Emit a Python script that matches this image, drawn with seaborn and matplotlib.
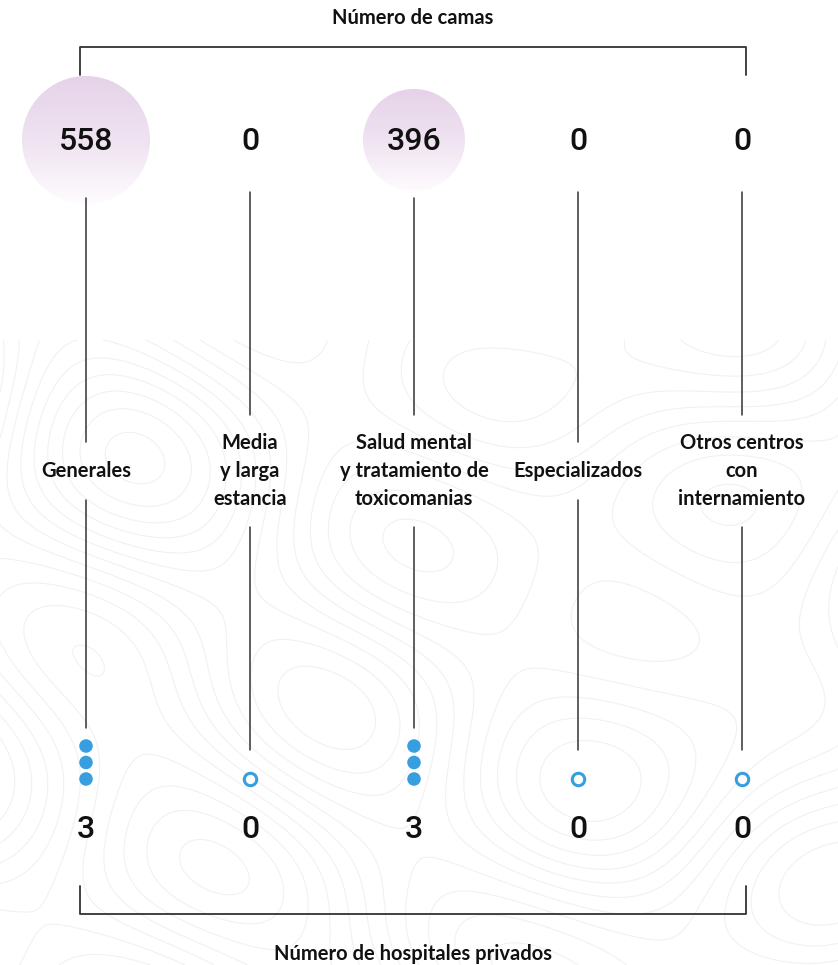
import numpy as np
import pandas as pd
import seaborn as sns
import matplotlib.pyplot as plt
from matplotlib.patches import Circle
from matplotlib.colors import LinearSegmentedColormap

# datos
categorias = ["Generales", "Media\ny larga\nestancia", "Salud mental\ny tratamiento de\ntoxicomanias",
              "Especializados", "Otros centros\ncon\ninternamiento"]
camas = [558, 0, 396, 0, 0]
hospitales = [3, 0, 3, 0, 0]

sns.set_style("white")
plt.rcParams['font.family'] = ['Lato', 'DejaVu Sans']

AZUL = '#379fe0'
LINEA = '#333333'

fig = plt.figure(figsize=(8.38, 9.65), dpi=100)
ax = fig.add_axes([0, 0, 1, 1])

xs = 86 + 164 * np.arange(len(categorias))

# fondo topografico tenue
gx, gy = np.meshgrid(np.linspace(0, 838, 300), np.linspace(340, 965, 260))
campo = (np.sin(gx / 95.0 + 0.6) * np.cos(gy / 120.0) + 0.7 * np.sin((gx + gy) / 150.0)
         + 0.5 * np.cos(gx / 60.0 - gy / 85.0) + 0.4 * np.sin(gy / 45.0 + gx / 210.0))
ax.contour(gx, gy, campo, levels=16, colors='#f1f1f1', linewidths=0.8,
           linestyles='solid', zorder=0)

# circulos de camas con degradado
cmap = LinearSegmentedColormap.from_list('rosa', ['#e6d2e9', '#efe2f1', '#fefcfe'])
grad = np.linspace(0, 1, 200).reshape(-1, 1)
vmax = max(camas)
for x, v in zip(xs, camas):
    if v > 0:
        r = 64 * (v / vmax) ** 0.66
        im = ax.imshow(grad, cmap=cmap, extent=[x - r, x + r, 140 + r, 140 - r],
                       aspect='auto', zorder=1, interpolation='bilinear')
        circ = Circle((x, 140), r, transform=ax.transData)
        im.set_clip_path(circ)
    ax.text(x, 141, f"{v}", ha='center', va='center', fontsize=23,
            family=['Roboto', 'DejaVu Sans'], fontweight='medium', color='#111111', zorder=3)

# lineas verticales y etiquetas
for x, v, lab, h in zip(xs, camas, categorias, hospitales):
    n = lab.count('\n') + 1
    top_c = 470 - 13.5 * (n - 1)
    bot_c = 470 + 13.5 * (n - 1)
    y0 = 198 if v > 0 else 192
    ax.plot([x, x], [y0, top_c - 28], color=LINEA, lw=1.1, zorder=2)
    fin = 779 - 16.5 * (h - 1) - 18 if h > 0 else 750
    ax.plot([x, x], [bot_c + 30, fin], color=LINEA, lw=1.1, zorder=2)
    ax.text(x, 471, lab, ha='center', va='center', fontsize=14.5, fontweight='bold',
            linespacing=1.5, color='#111111', zorder=3)
    ax.text(x, 830, f"{h}", ha='center', va='center', fontsize=23,
            family=['Roboto', 'DejaVu Sans'], fontweight='medium', color='#111111', zorder=3)

# puntos de hospitales
llenos = pd.DataFrame([(x, 779 - 16.5 * k) for x, h in zip(xs, hospitales) for k in range(h)],
                      columns=['x', 'y'])
vacios = pd.DataFrame([(x, 779) for x, h in zip(xs, hospitales) if h == 0], columns=['x', 'y'])
sns.scatterplot(data=llenos, x='x', y='y', color=AZUL, s=95, edgecolor='none', ax=ax, zorder=4)
sns.scatterplot(data=vacios, x='x', y='y', marker='o', s=80, color='white',
                edgecolor=AZUL, linewidth=2.2, ax=ax, zorder=4)

# corchetes
ax.plot([80, 80, 746, 746], [75, 47, 47, 75], color=LINEA, lw=1.3, zorder=2)
ax.plot([80, 80, 746, 746], [886, 914, 914, 886], color=LINEA, lw=1.3, zorder=2)
ax.text(413, 18, "Número de camas", ha='center', va='center', fontsize=14.5,
        fontweight='bold', color='#111111')
ax.text(413, 954, "Número de hospitales privados", ha='center', va='center', fontsize=14.5,
        fontweight='bold', color='#111111')

ax.set_xlim(0, 838)
ax.set_ylim(965, 0)
ax.axis('off')
fig.savefig('out.png', dpi=100, facecolor='white')
